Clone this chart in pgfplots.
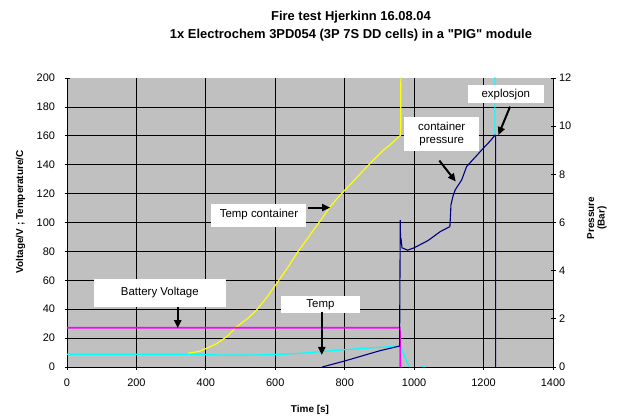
\documentclass[border=0pt]{standalone}
\usepackage{fontspec}
\setmainfont{Liberation Sans}[Ligatures=TeXOff]
\usepackage{pgfplots}
\pgfplotsset{compat=1.18}
\usetikzlibrary{arrows.meta}
\definecolor{plotbg}{RGB}{192,192,192}
\definecolor{navyc}{RGB}{0,0,128}
\definecolor{cyanl}{RGB}{0,255,255}
\definecolor{yel}{RGB}{255,255,0}
\definecolor{magc}{RGB}{255,0,255}
\begin{document}
\begin{tikzpicture}[x=1bp,y=1bp]
\path[use as bounding box] (0,0) rectangle (626,418);
\begin{axis}[
  at={(67bp,51bp)}, anchor=south west,
  scale only axis, width=486bp, height=289bp,
  xmin=0, xmax=1400, ymin=0, ymax=200,
  xtick={0,200,...,1400}, ytick={0,20,...,180},
  extra y ticks={200}, extra y tick style={grid=none},
  axis x line=bottom, axis y line=left,
  axis line style={-, black, line width=0.8bp},
  tick align=center, major tick length=5bp,
  tick style={black, line width=0.8bp},
  grid=major, grid style={black, line width=0.8bp},
  axis background/.style={fill=plotbg},
  tick label style={font=\fontsize{11}{12}\selectfont},
  xticklabel style={yshift=-6bp},
  yticklabel style={xshift=-6bp},
  /pgf/number format/assume math mode=true,
  /pgf/number format/1000 sep={},
  xlabel={Time [s]}, ylabel={Voltage/V ; Temperature/C},
  label style={font=\bfseries\fontsize{10}{12}\selectfont},
  xlabel style={at={(rel axis cs:0.5,-0.149)}, anchor=center},
  ylabel style={at={(rel axis cs:-0.0953,0.537)}, anchor=center},
  unbounded coords=jump,
]
% Temp container
\addplot[yel, line width=1.2bp] coordinates {
(349,9.5) (380,10.8) (402,12.9) (430,16) (460,21) (489,27.9) (520,33.5)
(546,39.4) (575,48) (604,57.9) (635,68.5) (662,78.7) (690,88) (710,94.8)
(735,103) (758,110.9) (785,118.5) (815,126) (840,132.5) (864,138.6)
(890,145) (911,150) (930,153.6) (961,160.5) (962,215)};
% Temp
\addplot[cyanl, line width=1.2bp] coordinates {
(0,8.8) (350,8.8) (450,8.3) (550,8.4) (600,8.6) (650,9.2) (700,10)
(750,11) (800,12) (850,12.8) (900,13.6) (960,14.5) (972,8) (983,1.4) (988,0)
(1000,nan) (1022,0.3) (1030,0.6) (1100,nan) (1232.5,160) (1232.5,215)};
% Battery voltage
\addplot[magc, line width=1.6bp] coordinates {
(0,27.2) (959,27.2) (960,0)};
\end{axis}
\begin{axis}[
  at={(67bp,51bp)}, anchor=south west,
  scale only axis, width=486bp, height=289bp,
  xmin=0, xmax=1400, ymin=0, ymax=12,
  axis x line=none, axis y line=right,
  axis line style={-, black, line width=0.8bp},
  ytick={0,2,...,12},
  tick align=center, major tick length=5bp,
  tick style={black, line width=0.8bp},
  tick label style={font=\fontsize{11}{12}\selectfont},
  /pgf/number format/assume math mode=true,
  ylabel={Pressure\\(Bar)},
  ylabel style={at={(rel axis cs:1.0905,0.5156)}, anchor=center, align=center,
    font=\bfseries\fontsize{10}{10.5}\selectfont},
]
\addplot[navyc, line width=1.1bp] coordinates {
(735,0) (800,0.25) (902,0.68) (958,0.87) (960,6.1) (961,5.1) (962,5.35)
(965,4.95) (981,4.85) (1000,4.95) (1040,5.25) (1075,5.62) (1103,5.83)
(1105,6.4) (1106,6.73) (1112,7.1) (1118,7.35) (1137,7.77) (1151,8.32)
(1175,8.7) (1199,9.08) (1220,9.4) (1233,9.63) (1234.5,9.6) (1234.5,0)};
\tikzset{ann/.style={fill=white, inner sep=0pt, align=center,
  font=\fontsize{11.5}{13}\selectfont},
  arr/.style={-{Triangle[length=8bp,width=7bp]}, line width=2bp, black}}
\node[ann, minimum width=95bp, minimum height=23bp] at (axis cs:553,6.31) {Temp container};
\draw[arr] (axis cs:695,6.62) -- (axis cs:758,6.62);
\node[ann, minimum width=132bp, minimum height=28bp] at (axis cs:267.4,3.09) {Battery Voltage};
\draw[arr] (axis cs:319,2.50) -- (axis cs:319,1.61);
\node[ann, minimum width=79bp, minimum height=17bp] at (axis cs:730,2.59) {Temp};
\draw[arr] (axis cs:734,2.30) -- (axis cs:734,0.50);
\node[ann, minimum width=75bp, minimum height=34bp] at (axis cs:1079.5,9.69) {container\\pressure};
\draw[arr] (axis cs:1072.6,8.57) -- (axis cs:1119.9,7.70);
\node[ann, minimum width=76bp, minimum height=18bp] at (axis cs:1264,11.33) {explosjon};
\draw[arr] (axis cs:1276.3,10.81) -- (axis cs:1242.6,9.63);
\end{axis}
\node[font=\bfseries\fontsize{13}{15}\selectfont] at (351,401) {Fire test Hjerkinn 16.08.04};
\node[font=\bfseries\fontsize{13}{15}\selectfont] at (351,383) {1x Electrochem 3PD054 (3P 7S DD cells) in a "PIG" module};
\end{tikzpicture}
\end{document}
